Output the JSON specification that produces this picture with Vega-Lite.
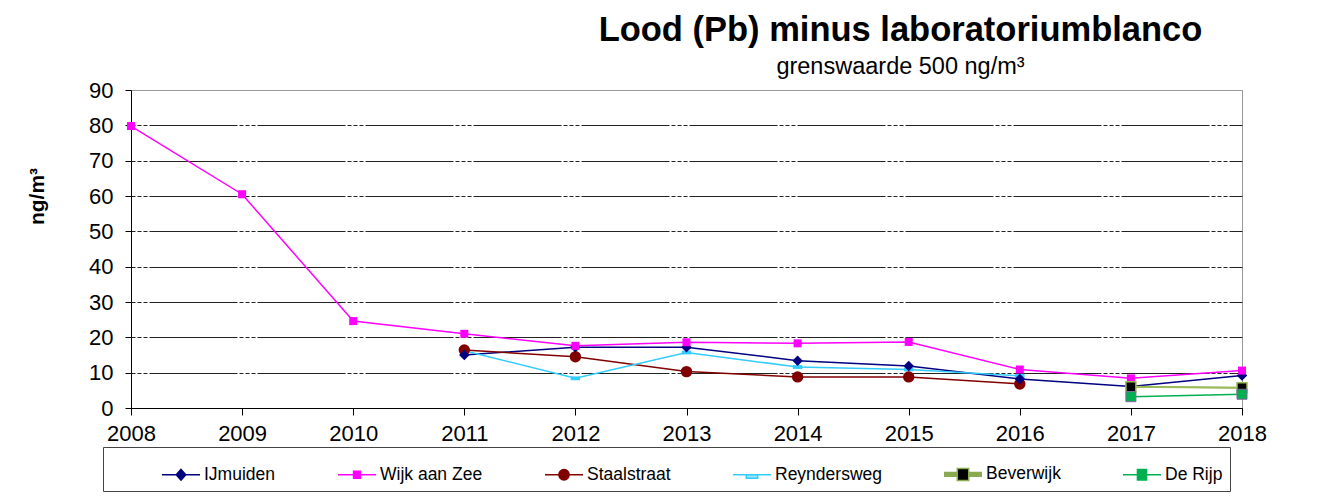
{
  "$schema": "https://vega.github.io/schema/vega-lite/v6.json",
  "width": 1111,
  "height": 318,
  "autosize": "none",
  "padding": {"left": 131, "top": 90, "right": 84, "bottom": 91},
  "background": "white",
  "title": {
    "text": "Lood (Pb) minus laboratoriumblanco",
    "subtitle": "grenswaarde 500 ng/m³",
    "anchor": "middle",
    "frame": "group",
    "dx": 214,
    "offset": 0,
    "font": "Liberation Sans",
    "fontSize": 34.5,
    "fontWeight": "bold",
    "color": "black",
    "subtitleFont": "Liberation Sans",
    "subtitleFontSize": 23.5,
    "subtitleColor": "black",
    "subtitlePadding": 6
  },
  "config": {
    "view": {"stroke": "#999", "strokeWidth": 1},
    "font": "Liberation Sans",
    "axis": {
      "labelFont": "Liberation Sans",
      "labelFontSize": 22,
      "labelColor": "black",
      "domainColor": "black",
      "tickColor": "black",
      "titleFont": "Liberation Sans",
      "titleColor": "black"
    }
  },
  "data": {
    "values": [
      {"station": "IJmuiden", "year": 2011, "value": 15.0},
      {"station": "IJmuiden", "year": 2012, "value": 17.2},
      {"station": "IJmuiden", "year": 2013, "value": 17.2},
      {"station": "IJmuiden", "year": 2014, "value": 13.4},
      {"station": "IJmuiden", "year": 2015, "value": 11.9},
      {"station": "IJmuiden", "year": 2016, "value": 8.2},
      {"station": "IJmuiden", "year": 2017, "value": 6.1},
      {"station": "IJmuiden", "year": 2018, "value": 9.2},
      {"station": "Wijk aan Zee", "year": 2008, "value": 79.8},
      {"station": "Wijk aan Zee", "year": 2009, "value": 60.5},
      {"station": "Wijk aan Zee", "year": 2010, "value": 24.6},
      {"station": "Wijk aan Zee", "year": 2011, "value": 21.0},
      {"station": "Wijk aan Zee", "year": 2012, "value": 17.6},
      {"station": "Wijk aan Zee", "year": 2013, "value": 18.6},
      {"station": "Wijk aan Zee", "year": 2014, "value": 18.3},
      {"station": "Wijk aan Zee", "year": 2015, "value": 18.7},
      {"station": "Wijk aan Zee", "year": 2016, "value": 10.9},
      {"station": "Wijk aan Zee", "year": 2017, "value": 8.4},
      {"station": "Wijk aan Zee", "year": 2018, "value": 10.6},
      {"station": "Staalstraat", "year": 2011, "value": 16.4},
      {"station": "Staalstraat", "year": 2012, "value": 14.5},
      {"station": "Staalstraat", "year": 2013, "value": 10.3},
      {"station": "Staalstraat", "year": 2014, "value": 8.8},
      {"station": "Staalstraat", "year": 2015, "value": 8.8},
      {"station": "Staalstraat", "year": 2016, "value": 6.8},
      {"station": "Reyndersweg", "year": 2011, "value": 16.2},
      {"station": "Reyndersweg", "year": 2012, "value": 8.4},
      {"station": "Reyndersweg", "year": 2013, "value": 15.7},
      {"station": "Reyndersweg", "year": 2014, "value": 11.6},
      {"station": "Reyndersweg", "year": 2015, "value": 10.9},
      {"station": "Reyndersweg", "year": 2016, "value": 9.1},
      {"station": "Beverwijk", "year": 2017, "value": 6.0},
      {"station": "Beverwijk", "year": 2018, "value": 5.7},
      {"station": "De Rijp", "year": 2017, "value": 3.2},
      {"station": "De Rijp", "year": 2018, "value": 3.9}
    ]
  },
  "encoding": {
    "x": {
      "field": "year",
      "type": "quantitative",
      "scale": {"domain": [2008, 2018], "nice": false, "zero": false},
      "axis": {
        "title": null,
        "values": [2008, 2009, 2010, 2011, 2012, 2013, 2014, 2015, 2016, 2017, 2018],
        "format": "d",
        "grid": false,
        "tickSize": 7,
        "labelPadding": 8,
        "labelFlush": false
      }
    },
    "y": {
      "field": "value",
      "type": "quantitative",
      "scale": {"domain": [0, 90], "nice": false},
      "axis": {
        "title": "ng/m³",
        "titleFontSize": 21,
        "titleFontWeight": "bold",
        "titleX": -94,
        "titleY": 106,
        "titleAlign": "center",
        "titleBaseline": "middle",
        "titleAngle": -90,
        "values": [0, 10, 20, 30, 40, 50, 60, 70, 80, 90],
        "tickSize": 6,
        "labelPadding": 12,
        "grid": true,
        "gridColor": {"condition": {"test": "datum.value === 90", "value": "#999"}, "value": "#222"},
        "gridDash": {"condition": {"test": "datum.value === 90", "value": []}, "value": [4, 2, 4, 2, 4, 2, 88, 2]},
        "gridWidth": 1
      }
    }
  },
  "layer": [
    {
      "mark": {"type": "line", "strokeWidth": 1.5},
      "encoding": {
        "stroke": {
          "field": "station",
          "type": "nominal",
          "scale": {
            "domain": ["IJmuiden", "Wijk aan Zee", "Staalstraat", "Reyndersweg", "Beverwijk", "De Rijp"],
            "range": ["#000080", "#FF00FF", "#800000", "#33CCFF", "#8AAA50", "#00B050"]
          },
          "legend": {
            "orient": "none",
            "legendX": -28,
            "legendY": 357,
            "direction": "horizontal",
            "title": " ",
            "titleOrient": "left",
            "titlePadding": 51,
            "padding": 7,
            "strokeColor": "#444",
            "fillColor": "white",
            "symbolSize": 1444,
            "symbolStrokeWidth": 1.5,
            "labelFont": "Liberation Sans",
            "labelFontSize": 17.5,
            "labelColor": "black",
            "labelOffset": 3,
            "columnPadding": 59,
            "encode": {
              "symbols": {
                "update": {
                  "shape": {"signal": "datum.value === 'IJmuiden' ? 'M-1,0H1M0,-0.28L0.25,0L0,0.28L-0.25,0Z' : datum.value === 'Wijk aan Zee' ? 'M-1,0H1M-0.18,-0.18H0.18V0.18H-0.18Z' : datum.value === 'Staalstraat' ? 'M-1,0H1M-0.27,0A0.27,0.27 0 1,0 0.27,0A0.27,0.27 0 1,0 -0.27,0Z' : datum.value === 'Reyndersweg' ? 'M-1,0H1M-0.3,0H0.3V0.18H-0.3Z' : datum.value === 'Beverwijk' ? 'M-1,-0.1H-0.3M0.3,-0.1H1M-1,-0.05H-0.3M0.3,-0.05H1M-1,0H-0.3M0.3,0H1M-1,0.05H-0.3M0.3,0.05H1M-1,0.1H-0.3M0.3,0.1H1M-0.3,-0.32H0.3V0.32H-0.3Z' : 'M-1,0H1M-0.24,-0.28H0.24V0.28H-0.24Z'"},
                  "fill": {"signal": "datum.value === 'IJmuiden' ? '#000080' : datum.value === 'Wijk aan Zee' ? '#FF00FF' : datum.value === 'Staalstraat' ? '#800000' : datum.value === 'Reyndersweg' ? '#99E6FF' : datum.value === 'Beverwijk' ? '#000000' : '#00B050'"}
                }
              }
            }
          }
        }
      }
    },
    {
      "transform": [{"filter": "datum.station === 'Beverwijk'"}],
      "mark": {"type": "line", "strokeWidth": 2, "stroke": "#9BBB59"}
    },
    {
      "transform": [{"filter": "datum.station === 'Reyndersweg'"}],
      "mark": {"type": "point", "shape": "M-1,-0.4H1V0.4H-1Z", "filled": true, "fill": "#33CCFF", "size": 90, "strokeWidth": 0, "opacity": 1}
    },
    {
      "transform": [{"filter": "datum.station === 'Staalstraat'"}],
      "mark": {"type": "point", "shape": "circle", "filled": true, "fill": "#800000", "size": 130, "strokeWidth": 0, "opacity": 1}
    },
    {
      "transform": [{"filter": "datum.station === 'IJmuiden'"}],
      "mark": {"type": "point", "shape": "diamond", "filled": true, "fill": "#000080", "size": 110, "strokeWidth": 0, "opacity": 1}
    },
    {
      "transform": [{"filter": "datum.station === 'Wijk aan Zee'"}],
      "mark": {"type": "point", "shape": "square", "filled": true, "fill": "#FF00FF", "size": 64, "strokeWidth": 0, "opacity": 1}
    },
    {
      "transform": [{"filter": "datum.station === 'Beverwijk'"}],
      "mark": {"type": "point", "shape": "square", "filled": true, "fill": "#000000", "stroke": "#9BBB59", "strokeWidth": 1.5, "size": 100, "opacity": 1}
    },
    {
      "transform": [{"filter": "datum.station === 'De Rijp'"}],
      "mark": {"type": "point", "shape": "square", "filled": true, "fill": "#00B050", "stroke": "#8064A2", "strokeWidth": 1, "size": 100, "opacity": 1}
    }
  ]
}
